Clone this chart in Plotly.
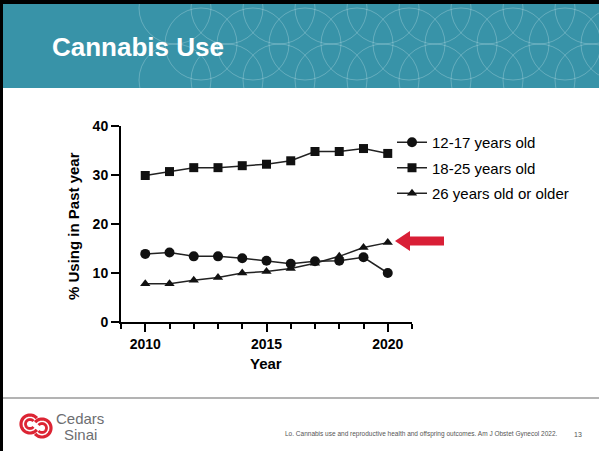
import numpy as np
import plotly.graph_objects as go

# ---------------- data ----------------
years = [2010, 2011, 2012, 2013, 2014, 2015, 2016, 2017, 2018, 2019, 2020]
age_12_17 = [13.9, 14.2, 13.4, 13.4, 13.0, 12.5, 11.9, 12.4, 12.5, 13.2, 10.0]
age_18_25 = [29.9, 30.7, 31.5, 31.5, 31.9, 32.2, 32.9, 34.8, 34.8, 35.4, 34.4]
age_26_up = [7.8, 7.8, 8.5, 9.1, 10.0, 10.3, 10.9, 12.0, 13.4, 15.2, 16.2]
series_names = ["12-17 years old", "18-25 years old", "26 years old or older"]
y_ticks = [0, 10, 20, 30, 40]
x_ticks = [2010, 2015, 2020]

W, H = 599, 451
FONT = "Arial, Liberation Sans, sans-serif"


def X(px):
    return px / W


def Y(py):
    return 1 - py / H


fig = go.Figure()

symbols = ["circle", "square", "triangle-up"]
sizes = [10, 9, 9]
for name, vals, sym, sz in zip(series_names, [age_12_17, age_18_25, age_26_up], symbols, sizes):
    fig.add_trace(go.Scatter(
        x=years, y=vals, name=name, mode="lines+markers",
        line=dict(color="#222222", width=1.5),
        marker=dict(symbol=sym, size=sz, color="#111111"),
        legendgroup=name,
    ))

shapes = []
shapes.append(dict(type="rect", xref="paper", yref="paper", x0=0, x1=1, y0=Y(88), y1=1,
                   fillcolor="#3893a8", line=dict(width=0), layer="below"))
for row_y, off in [(8, 0), (44, 26), (80, 0)]:
    for i in range(12):
        cx = 175 + off + i * 52
        r = 36
        shapes.append(dict(type="circle", xref="paper", yref="paper",
                           x0=X(cx - r), x1=X(cx + r), y0=Y(row_y + r), y1=Y(row_y - r),
                           line=dict(color="rgba(220,240,245,0.35)", width=0.8), layer="below"))
shapes.append(dict(type="rect", xref="paper", yref="paper", x0=0, x1=1, y0=0, y1=Y(88),
                   fillcolor="white", line=dict(width=0), layer="below"))
shapes.append(dict(type="rect", xref="paper", yref="paper", x0=0, x1=X(3), y0=0, y1=1,
                   fillcolor="black", line=dict(width=0), layer="below"))
shapes.append(dict(type="rect", xref="paper", yref="paper", x0=0, x1=1, y0=Y(4), y1=1,
                   fillcolor="black", line=dict(width=0), layer="below"))
shapes.append(dict(type="line", xref="paper", yref="paper", x0=X(3), x1=1, y0=Y(398), y1=Y(398),
                   line=dict(color="#9a9a9a", width=1.5), layer="below"))


def arc_path(cx, cy, r, a0, a1, n=40):
    t = np.linspace(np.radians(a0), np.radians(a1), n)
    pts = [(X(cx + r * np.cos(a)), Y(cy - r * np.sin(a))) for a in t]
    return "M " + " L ".join(f"{p[0]:.5f},{p[1]:.5f}" for p in pts)


red = "#dc2433"
for cx, cy, a0, a1 in [(30, 424, 40, 320), (42, 428, 220, 500)]:
    for r, w in [(9, 3.2), (4.5, 2.8)]:
        shapes.append(dict(type="path", xref="paper", yref="paper", path=arc_path(cx, cy, r, a0, a1),
                           line=dict(color=red, width=w), layer="above"))

ax = [395, 410, 410, 444, 444, 410, 410]
ay = [241, 231, 236.5, 236.5, 245.5, 245.5, 251]
path = "M " + " L ".join(f"{X(a):.5f},{Y(b):.5f}" for a, b in zip(ax, ay)) + " Z"
shapes.append(dict(type="path", xref="paper", yref="paper", path=path,
                   fillcolor="#d91f36", line=dict(width=0), layer="above"))

annotations = [
    dict(text="Cannabis Use", x=X(50), y=Y(47), xref="paper", yref="paper", xanchor="left",
         yanchor="middle", showarrow=False,
         font=dict(family=FONT, size=26, color="white", weight="bold")),
    dict(text="Cedars", x=X(54), y=Y(418), xref="paper", yref="paper", xanchor="left",
         yanchor="middle", showarrow=False, font=dict(family=FONT, size=15, color="#6d6e71")),
    dict(text="Sinai", x=X(62), y=Y(434), xref="paper", yref="paper", xanchor="left",
         yanchor="middle", showarrow=False, font=dict(family=FONT, size=15, color="#6d6e71")),
    dict(text="Lo. Cannabis use and reproductive health and offspring outcomes. Am J Obstet Gynecol 2022.",
         x=X(283), y=Y(434), xref="paper", yref="paper", xanchor="left", yanchor="middle",
         showarrow=False, font=dict(family=FONT, size=6.5, color="#555555")),
    dict(text="13", x=X(578), y=Y(434), xref="paper", yref="paper", xanchor="center",
         yanchor="middle", showarrow=False, font=dict(family=FONT, size=7, color="#555555")),
    dict(text="% Using in Past year", x=X(73), y=Y(226), xref="paper", yref="paper",
         xanchor="center", yanchor="middle", textangle=-90, showarrow=False,
         font=dict(family=FONT, size=15, color="black", weight="bold")),
    dict(text="Year", x=X(266), y=Y(363), xref="paper", yref="paper",
         xanchor="center", yanchor="middle", showarrow=False,
         font=dict(family=FONT, size=15, color="black", weight="bold")),
]

fig.update_layout(
    width=W, height=H,
    margin=dict(l=0, r=0, t=0, b=0),
    paper_bgcolor="white", plot_bgcolor="rgba(0,0,0,0)",
    template="none",
    shapes=shapes, annotations=annotations,
    showlegend=True,
    legend=dict(x=X(392), y=Y(126), xanchor="left", yanchor="top",
                font=dict(family=FONT, size=15, color="black"),
                bgcolor="rgba(0,0,0,0)", itemwidth=30, tracegroupgap=3),
    xaxis=dict(domain=[X(121), X(412)], range=[2009, 2021], tickvals=x_ticks,
               ticks="outside", ticklen=8, tickwidth=2, tickcolor="black",
               minor=dict(tickmode="linear", tick0=2009, dtick=1, ticks="outside", ticklen=5,
                          tickwidth=2, tickcolor="black"),
               showline=True, linewidth=2, linecolor="black", showgrid=False, zeroline=False,
               tickfont=dict(family=FONT, size=14, color="black", weight="bold"),
               automargin=False, fixedrange=True),
    yaxis=dict(domain=[Y(322), Y(126)], range=[0, 40], tickvals=y_ticks,
               ticks="outside", ticklen=8, tickwidth=2, tickcolor="black",
               showline=True, linewidth=2, linecolor="black", showgrid=False, zeroline=False,
               tickfont=dict(family=FONT, size=14, color="black", weight="bold"),
               automargin=False, fixedrange=True),
)

fig.write_html("out.html")
